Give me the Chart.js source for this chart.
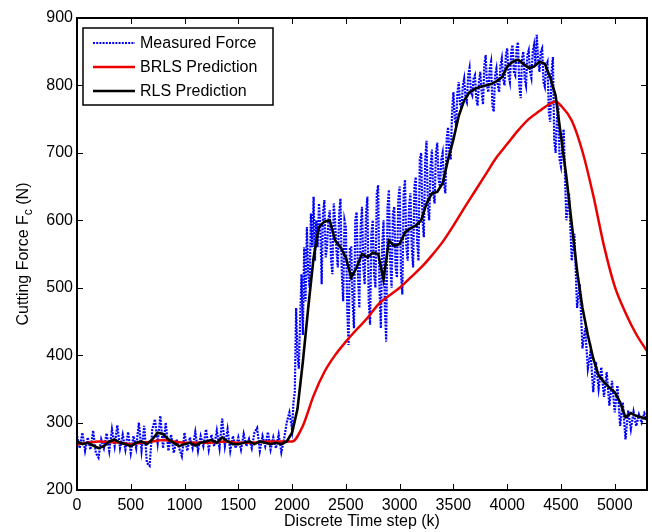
<!DOCTYPE html>
<html>
<head>
<meta charset="utf-8">
<script src="https://cdn.jsdelivr.net/npm/chart.js@4.4.1/dist/chart.umd.min.js"></script>
<style>
  html, body { margin: 0; padding: 0; background: #fff; }
  #wrap { width: 652px; height: 532px; }
</style>
</head>
<body>
<div id="wrap"><canvas id="chart" width="652" height="532"></canvas></div>
<script>
// measured force, quiet part: k = 0 .. 1975, one sample every 25 steps
const measuredQuiet = [
  280, 262, 285, 258, 278, 260, 288, 255, 248, 275, 262, 284, 258, 290, 265, 296,
  262, 282, 260, 286, 255, 280, 262, 300, 258, 295, 240, 236, 290, 305, 270, 310,
  262, 300, 258, 282, 255, 275, 262, 250, 285, 258, 278, 262, 286, 258, 280, 265,
  290, 260, 282, 265, 288, 262, 306, 265, 290, 258, 280, 262, 278, 260, 283, 265,
  276, 262, 285, 292, 258, 280, 265, 286, 260, 278, 262, 282, 256, 275, 300, 315
];
// measured force, cutting part: k = 2000 .. 4500, one sample every 12.5 steps
const measuredCut = [
  290, 330, 345, 470, 400, 380, 455, 520,
  430, 560, 480, 590, 520, 500, 610, 560,
  635, 540, 600, 560, 625, 590, 505, 610,
  630, 545, 560, 600, 615, 540, 520, 625,
  600, 555, 530, 610, 632, 520, 480, 600,
  590, 470, 415, 560, 560, 480, 440, 600,
  612, 520, 470, 590, 620, 530, 505, 610,
  635, 480, 445, 580, 600, 520, 500, 640,
  652, 500, 440, 560, 600, 470, 420, 620,
  645, 540, 500, 610, 620, 530, 515, 630,
  650, 520, 490, 640, 660, 560, 540, 620,
  640, 560, 530, 650, 664, 570, 540, 690,
  700, 600, 575, 690, 718, 620, 600, 680,
  705, 640, 625, 700, 715, 660, 650, 690,
  700, 655, 640, 720, 738, 700, 690, 760,
  790, 750, 740, 790, 805, 770, 766, 800,
  810, 780, 775, 815, 826, 790, 785, 810,
  815, 780, 770, 805, 820, 790, 772, 830,
  845, 800, 790, 825, 835, 770, 761, 815,
  825, 800, 790, 830, 840, 810, 800, 845,
  855, 815, 805, 850, 860, 820, 815, 855,
  864, 800, 781, 840, 850, 810, 800, 845,
  852, 820, 811, 850, 860, 830, 875, 840,
  820, 850, 855, 805, 798, 830, 835, 760,
  746, 820, 842, 720, 700, 750, 770, 690,
  680
];
// measured force, drop part: k = 4525 .. 5300, one sample every 25 steps
const measuredDrop = [
  735, 600, 640, 540, 580, 470, 505, 410, 440, 380, 405, 345, 390, 350, 382, 338,
  375, 325, 362, 315, 355, 295, 330, 275, 318, 290, 316, 295, 312, 300, 314, 305
];

// RLS prediction, one sample every 50 steps starting at k = 0
const rlsStep = 50;
const rlsForce = [
  272, 268, 270, 266, 262, 265, 272, 275, 270, 268, 265, 270, 272, 268, 275, 285,
  283, 275, 270, 265, 268, 270, 266, 270, 272, 274, 270, 278, 272, 268, 268, 270,
  272, 268, 272, 270, 268, 270, 268, 272, 285, 320, 390, 470, 545, 590, 598, 600,
  570, 560, 545, 515, 530, 550, 545, 552, 550, 512, 570, 562, 565, 582, 588, 592,
  600, 625, 640, 642, 655, 690, 720, 755, 778, 790, 795, 798, 800, 802, 806, 812,
  828, 835, 838, 832, 826, 828, 835, 832, 812, 785, 725, 665, 595, 525, 470, 430,
  395, 370, 360, 352, 345, 330, 308, 314, 310, 308, 305
];

// BRLS prediction
const brlsK = [
  0, 100, 200, 300, 400, 500, 600, 700, 800, 900, 1000, 1100, 1200, 1300, 1400,
  1500, 1600, 1700, 1800, 1900, 2000, 2100, 2200, 2300, 2400, 2500, 2600, 2700,
  2800, 2900, 3000, 3100, 3200, 3300, 3400, 3500, 3600, 3700, 3800, 3900, 4000,
  4100, 4200, 4300, 4400, 4450, 4500, 4600, 4700, 4800, 4900, 5000, 5100, 5200, 5300
];
const brlsForce = [
  268, 270, 272, 271, 270, 268, 270, 272, 274, 272, 270, 270, 270, 271, 272,
  270, 270, 271, 272, 272, 272, 295, 340, 375, 400, 420, 438, 455,
  475, 488, 500, 515, 530, 548, 568, 592, 618, 643, 668, 693, 713,
  733, 750, 762, 773, 776, 770, 748, 702, 637, 562, 502, 463, 431, 406
];

const seriesNames = ['Measured Force', 'BRLS Prediction', 'RLS Prediction'];
const xTicks = [0, 500, 1000, 1500, 2000, 2500, 3000, 3500, 4000, 4500, 5000];
const yTicks = [200, 300, 400, 500, 600, 700, 800, 900];
const xTitle = 'Discrete Time step (k)';

const FONT = '"Liberation Sans", Arial, Helvetica, sans-serif';

const measuredPts = [
  ...measuredQuiet.map((v, i) => ({ x: i * 25, y: v })),
  ...measuredCut.map((v, i) => ({ x: 2000 + i * 12.5, y: v })),
  ...measuredDrop.map((v, i) => ({ x: 4525 + i * 25, y: v }))
];
const rlsPts = rlsForce.map((v, i) => ({ x: i * rlsStep, y: v }));
const brlsPts = brlsForce.map((v, i) => ({ x: brlsK[i], y: v }));

const framePlugin = {
  id: 'frame',
  afterDatasetsDraw(chart) {
    const { ctx, chartArea: a, scales: { x, y } } = chart;
    ctx.save();
    ctx.strokeStyle = '#000';
    ctx.lineWidth = 1;
    const seg = (x1, y1, x2, y2) => {
      ctx.beginPath(); ctx.moveTo(x1, y1); ctx.lineTo(x2, y2); ctx.stroke();
    };
    xTicks.forEach(v => {
      const px = Math.round(x.getPixelForValue(v)) + 0.5;
      seg(px, a.bottom, px, a.bottom - 6);
      seg(px, a.top, px, a.top + 6);
    });
    yTicks.forEach(v => {
      const py = Math.round(y.getPixelForValue(v)) + 0.5;
      seg(a.left, py, a.left + 6, py);
      seg(a.right, py, a.right - 6, py);
    });
    ctx.lineWidth = 2;
    ctx.strokeRect(a.left, a.top, a.right - a.left, a.bottom - a.top);

    // legend box
    const lx = a.left + 6, ly = a.top + 10, lw = 190, lh = 77;
    ctx.fillStyle = '#fff';
    ctx.fillRect(lx, ly, lw, lh);
    ctx.lineWidth = 1.5;
    ctx.strokeRect(lx, ly, lw, lh);
    ctx.font = '16px ' + FONT;
    ctx.textBaseline = 'middle';
    ctx.textAlign = 'left';
    chart.data.datasets.forEach((ds, i) => {
      const ry = ly + 15 + i * 24;
      ctx.strokeStyle = ds.borderColor;
      ctx.lineWidth = ds.borderWidth;
      ctx.setLineDash(ds.borderDash || []);
      seg(lx + 10, ry, lx + 52, ry);
      ctx.setLineDash([]);
      ctx.fillStyle = '#000';
      ctx.fillText(ds.label, lx + 57, ry + 1);
    });

    // axis titles
    ctx.fillStyle = '#000';
    ctx.textAlign = 'center';
    ctx.textBaseline = 'middle';
    ctx.font = '16px ' + FONT;
    ctx.fillText(xTitle, (a.left + a.right) / 2, 522);

    ctx.save();
    ctx.translate(24, 254);
    ctx.rotate(-Math.PI / 2);
    const p1 = 'Cutting Force F', sub = 'c', p2 = ' (N)';
    ctx.font = '16px ' + FONT;
    const w1 = ctx.measureText(p1).width, w3 = ctx.measureText(p2).width;
    ctx.font = '12px ' + FONT;
    const w2 = ctx.measureText(sub).width;
    const sx = -(w1 + w2 + w3) / 2;
    ctx.textAlign = 'left';
    ctx.font = '16px ' + FONT;
    ctx.fillText(p1, sx, 0);
    ctx.font = '12px ' + FONT;
    ctx.fillText(sub, sx + w1, 5);
    ctx.font = '16px ' + FONT;
    ctx.fillText(p2, sx + w1 + w2, 0);
    ctx.restore();

    ctx.restore();
  }
};

new Chart(document.getElementById('chart'), {
  type: 'line',
  data: {
    datasets: [
      {
        label: seriesNames[0],
        data: measuredPts,
        borderColor: '#0000ff',
        borderWidth: 2.2,
        borderDash: [2, 1.2],
        pointRadius: 0,
        tension: 0,
        order: 3
      },
      {
        label: seriesNames[1],
        data: brlsPts,
        borderColor: 'rgb(235,0,0)',
        borderWidth: 2.5,
        pointRadius: 0,
        cubicInterpolationMode: 'monotone',
        order: 2
      },
      {
        label: seriesNames[2],
        data: rlsPts,
        borderColor: '#000000',
        borderWidth: 2.6,
        pointRadius: 0,
        tension: 0,
        order: 1
      }
    ]
  },
  options: {
    responsive: false,
    animation: false,
    devicePixelRatio: 1,
    layout: { padding: { left: 0, top: 18, right: 5, bottom: 0 } },
    plugins: { legend: { display: false }, tooltip: { enabled: false } },
    scales: {
      x: {
        type: 'linear',
        min: 0,
        max: 5300,
        grid: { display: false, drawTicks: false, tickLength: 0 },
        border: { display: false },
        afterFit: s => { s.height = 42; },
        afterBuildTicks: s => { s.ticks = xTicks.map(v => ({ value: v })); },
        ticks: {
          includeBounds: false,
          padding: 6,
          maxRotation: 0,
          autoSkip: false,
          color: '#000',
          font: { family: FONT, size: 16 },
          callback: v => String(v)
        }
      },
      y: {
        min: 200,
        max: 900,
        grid: { display: false, drawTicks: false, tickLength: 0 },
        border: { display: false },
        afterFit: s => { s.width = 77; },
        afterBuildTicks: s => { s.ticks = yTicks.map(v => ({ value: v })); },
        ticks: {
          padding: 4,
          color: '#000',
          font: { family: FONT, size: 16 },
          callback: v => String(v)
        }
      }
    }
  },
  plugins: [framePlugin]
});
</script>
</body>
</html>
